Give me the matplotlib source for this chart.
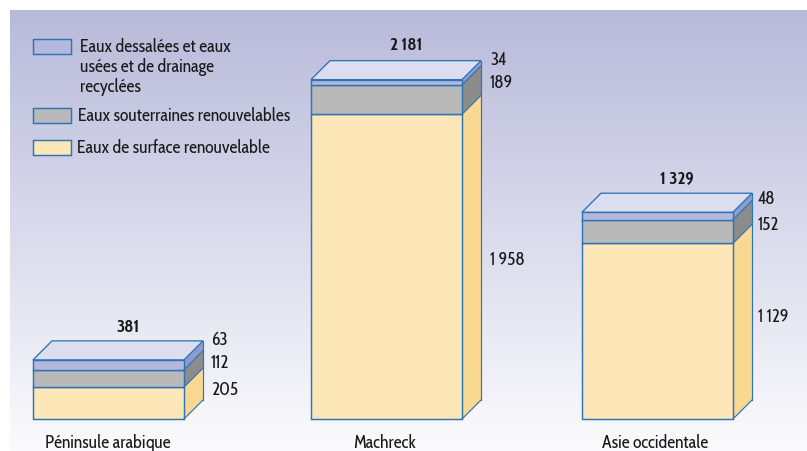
import numpy as np
import matplotlib
matplotlib.use("Agg")
from matplotlib import pyplot as plt
from matplotlib.patches import Polygon, Rectangle
from matplotlib.transforms import Affine2D

regions = ["Péninsule arabique", "Machreck", "Asie occidentale"]
surface = [205, 1958, 1129]
underground = [112, 189, 152]
recycled = [63, 34, 48]
totals = ["381", "2 181", "1 329"]
surface_labels = ["205", "1 958", "1 129"]
underground_labels = ["112", "189", "152"]
recycled_labels = ["63", "34", "48"]
legend_labels = ["Eaux dessalées et eaux\nusées et de drainage\nrecyclées",
                 "Eaux souterraines renouvelables",
                 "Eaux de surface renouvelable"]

# layout in pixels
W, H = 807, 451
base_y = 419
px_per_unit = 0.1556
depth = 19
bar_left = [33, 311, 582]
bar_width = 151

edge = "#2f74b5"
front_colors = ["#fde7b8", "#b9b9b9", "#b3b8dc"]
side_colors = ["#f9d992", "#8c8c8c", "#8d9dd0"]
top_color = "#dcdef0"

plt.rcParams["font.family"] = ["Cabin Condensed", "Liberation Sans Narrow", "DejaVu Sans"]

fig = plt.figure(figsize=(W / 100, H / 100), dpi=100)
ax = fig.add_axes([0, 0, 1, 1])
ax.set_xlim(0, W)
ax.set_ylim(-(H - base_y) / px_per_unit, base_y / px_per_unit)
ax.axis("off")

# background gradient
grad = np.linspace(0, 1, 256).reshape(-1, 1)
top_rgb = np.array([0xb8, 0xba, 0xda]) / 255
bot_rgb = np.array([0xfb, 0xfb, 0xfd]) / 255
img = top_rgb + (bot_rgb - top_rgb) * grad[..., None]
ax.imshow(img, extent=[10, W, -(H - base_y) / px_per_unit, (base_y - 10) / px_per_unit],
          aspect="auto", zorder=0)

dy = depth / px_per_unit
for i in range(len(regions)):
    x0 = bar_left[i]
    x1 = x0 + bar_width
    bottom = 0
    for vals, fc, sc in zip([surface, underground, recycled], front_colors, side_colors):
        v = vals[i]
        ax.add_patch(Polygon([(x1, bottom), (x1 + depth, bottom + dy), (x1 + depth, bottom + v + dy), (x1, bottom + v)],
                             closed=True, fc=sc, ec="none", zorder=2))
        ax.add_patch(Rectangle((x0, bottom), bar_width, v, fc=fc, ec=edge, lw=1.05, zorder=3))
        bottom += v
    ax.add_patch(Polygon([(x0, bottom), (x0 + depth, bottom + dy), (x1 + depth, bottom + dy), (x1, bottom)],
                         closed=True, fc=top_color, ec=edge, lw=0.95, zorder=3))
    # side edges drawn over the fills
    ax.plot([x1 + depth, x1 + depth], [dy, bottom + dy], color=edge, lw=0.85, zorder=4)
    ax.plot([x1, x1 + depth], [0, dy], color=edge, lw=0.85, zorder=4)
    ax.plot([x1, x1 + depth], [surface[i], surface[i] + dy], color=edge, lw=0.85, zorder=4)
    ax.plot([x1, x1 + depth], [surface[i] + underground[i], surface[i] + underground[i] + dy], color=edge, lw=0.85, zorder=4)

# text placed in image pixels
px = Affine2D().scale(1, -1).translate(0, H)

def label(x, y, s, **kw):
    kw.setdefault("fontsize", 12.8)
    kw.setdefault("color", "#1a1a1a")
    kw.setdefault("va", "center")
    ax.text(x, y, s, transform=px, **kw)

total_x = [128, 406, 677]
total_y = [328, 45, 179]
for x, y, s in zip(total_x, total_y, totals):
    label(x, y, s, ha="center", fontweight="bold")

side_x = [211, 490, 758]
rec_y = [340, 60, 199]
und_y = [363, 83, 225]
sur_y = [390, 260, 317]
for i in range(3):
    label(side_x[i], rec_y[i], recycled_labels[i])
    label(side_x[i], und_y[i], underground_labels[i])
    label(side_x[i], sur_y[i], surface_labels[i])

cat_x = [108, 385, 655]
for x, s in zip(cat_x, regions):
    label(x, 443, s, ha="center")

# legend
box_y = [39, 108, 140]
text_x = [80, 78, 77]
text_y = [67, 116, 148]
for i, fc in enumerate([front_colors[2], front_colors[1], front_colors[0]]):
    r = Rectangle((33, box_y[i]), 38, 14.5, fc=fc, ec=edge, lw=1.05, transform=px, zorder=3)
    ax.add_patch(r)
    label(text_x[i], text_y[i], legend_labels[i], linespacing=1.17)

fig.savefig("out.png", dpi=100)
